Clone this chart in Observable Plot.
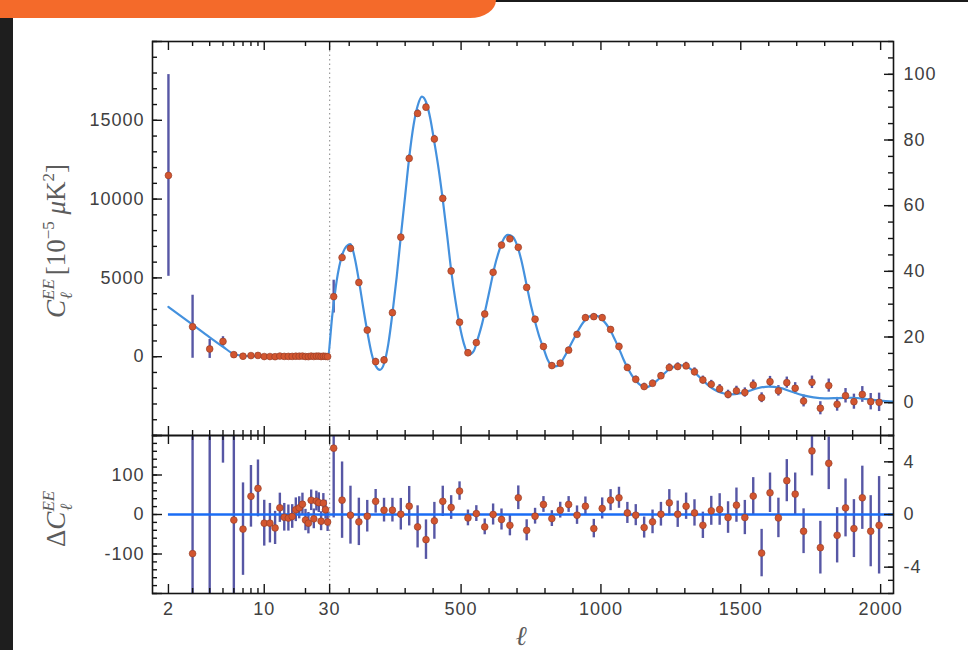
<!DOCTYPE html>
<html>
<head>
<meta charset="utf-8">
<script src="https://cdn.jsdelivr.net/npm/d3@7"></script>
<script src="https://cdn.jsdelivr.net/npm/@observablehq/plot@0.6"></script>
<style>
  html, body { margin: 0; padding: 0; background: #fff; }
  #page { position: relative; width: 968px; height: 650px; overflow: hidden; background: #fff; }
  .band { position: absolute; left: 0; top: 0; width: 496px; height: 18px; background: #f46a2a;
          border-bottom-right-radius: 26px 18px; z-index: 5; }
  .rule { position: absolute; left: 470px; right: 0; top: 0; height: 2px; background: #1b1b1b; z-index: 4; }
  .side { position: absolute; left: 0; top: 18px; bottom: 0; width: 13px; background: #1e1e1e; z-index: 5; }
  #top, #bottom { position: absolute; left: 0; }
  #top { top: 0; }
  #bottom { top: 435px; }
</style>
</head>
<body>
<div id="page">
  <div id="top"></div>
  <div id="bottom"></div>
  <div class="rule"></div>
  <div class="band"></div>
  <div class="side"></div>
</div>
<script>
// ---------------- data ----------------
// Low multipoles (ℓ = 2..29): C_ℓ^EE in units of 1e-5 μK²
const lowEll = [2, 3, 4, 5, 6, 7, 8, 9, 10, 11, 12, 13, 14, 15, 16, 17, 18, 19, 20, 21, 22, 23, 24, 25, 26, 27, 28, 29];
const lowC = [11500, 1900, 490, 970, 130, 30, 70, 80, 10, 10, 0, 40, 20, 20, 20, 30, 30, 40, 10, 5, 40, 15, 35, 35, 10, 30, 20, 5];
const lowCErr = [6400, 2000, 600, 300, 150, 60, 60, 60, 60, 60, 60, 60, 60, 60, 60, 60, 60, 60, 60, 60, 60, 60, 60, 60, 60, 60, 60, 60];
const lowModelC = [3160, 2040, 1230, 630, 170, 60, 35, 28, 24, 22, 20, 19, 18, 17, 16, 15, 15, 14, 14, 13, 13, 12, 12, 12, 11, 11, 11, 10];

// Low-multipole residuals ΔC_ℓ (ℓ = 3..29)
const resEll = [3, 4, 5, 6, 7, 8, 9, 10, 11, 12, 13, 14, 15, 16, 17, 18, 19, 20, 21, 22, 23, 24, 25, 26, 27, 28, 29];
const resC = [-99, -300, 400, -14, -37, 46, 66, -22, -22, -34, 17, -7, -9, -5, 12, 17, 26, -14, -22, 36, -11, 34, 30, -17, 29, 12, -19];
const resCErr = [2000, 600, 270, 250, 117, 78, 72, 58, 50, 42, 37, 35, 33, 30, 30, 28, 28, 27, 27, 26, 25, 25, 25, 24, 24, 24, 24];

// High multipoles: binned D_ℓ^EE in μK²
const binEll = [44.5, 74.5, 104.5, 134.5, 164.5, 194.5, 224.5, 254.5, 284.5, 314.5,
  344.5, 374.5, 404.5, 434.5, 464.5, 494.5, 524.5, 554.5, 584.5, 614.5,
  644.5, 674.5, 704.5, 734.5, 764.5, 794.5, 824.5, 854.5, 884.5, 914.5,
  944.5, 974.5, 1004.5, 1034.5, 1064.5, 1094.5, 1124.5, 1154.5, 1184.5, 1214.5,
  1244.5, 1274.5, 1304.5, 1334.5, 1364.5, 1394.5, 1424.5, 1454.5, 1484.5, 1514.5,
  1544.5, 1574.5, 1604.5, 1634.5, 1664.5, 1694.5, 1724.5, 1754.5, 1784.5, 1814.5,
  1844.5, 1874.5, 1904.5, 1934.5, 1964.5, 1994.5];
const topD = [32.3, 44.2, 47.0, 36.6, 22.1, 12.5, 13.0, 27.4, 50.4, 74.4,
  88.1, 90.0, 80.3, 62.2, 40.1, 24.5, 15.2, 18.3, 27.0, 39.7,
  48.0, 49.9, 47.3, 35.1, 25.4, 17.1, 11.3, 12.0, 16.0, 20.8,
  25.9, 26.2, 25.9, 22.3, 17.1, 10.7, 7.1, 4.9, 5.9, 8.2,
  10.7, 11.0, 11.2, 9.4, 6.9, 5.6, 4.2, 2.5, 3.6, 3.1,
  5.4, 1.5, 6.4, 3.6, 6.1, 4.4, 0.5, 6.2, -1.7, 5.2,
  -0.5, 2.1, 0.3, 2.5, 0.3, 0.1];
const topErr = [5, 1.2, 1.1, 1, 1, 1, 1, 1, 1, 1.1,
  1.1, 1.1, 1.1, 1, 1, 0.9, 0.9, 0.9, 0.9, 0.9,
  0.9, 0.9, 0.9, 0.9, 0.9, 0.9, 0.9, 0.9, 0.9, 0.9,
  0.9, 0.9, 0.9, 0.9, 1, 1, 1, 1, 1, 1,
  1.1, 1.1, 1.1, 1.2, 1.2, 1.2, 1.3, 1.3, 1.4, 1.4,
  1.5, 1.5, 1.6, 1.6, 1.7, 1.7, 1.8, 1.9, 2.0, 2.0,
  2.1, 2.2, 2.3, 2.4, 2.5, 2.8];
const resD = [5.04, 1.09, -0.05, -0.56, -0.13, 1.0, 0.33, 0.33, 0.02, 0.63,
  -0.94, -1.91, -0.48, 1.0, 0.53, 1.78, -0.26, 0.07, -0.94, 0,
  -0.38, -0.82, 1.27, -1.2, -0.13, 0.76, -0.31, 0.33, 0.76, -0.05,
  0.63, -1.07, 0.46, 1.09, 1.27, 0.12, -0.05, -0.99, -0.56, 0.02,
  0.89, 0.02, 0.63, 0.12, -0.82, 0.28, 0.38, -0.23, 0.71, -0.23,
  1.4, -2.93, 1.65, -0.26, 2.57, 1.55, -1.27, 4.83, -2.52, 3.89,
  -1.58, 0.5, -1.07, 1.27, -1.27, -0.82];
const resDErr = [5.3, 2.9, 2.2, 1.8, 1.2, 0.9, 0.9, 0.9, 1.2, 1.5,
  1.6, 1.5, 1.4, 1.15, 0.9, 0.7, 0.6, 0.6, 0.6, 0.8,
  0.8, 0.8, 0.9, 0.8, 0.6, 0.6, 0.6, 0.6, 0.6, 0.7,
  0.7, 0.7, 0.8, 0.8, 0.8, 0.8, 0.8, 0.8, 0.9, 0.9,
  1.0, 1.0, 1.0, 1.0, 1.0, 1.1, 1.2, 1.2, 1.3, 1.3,
  1.4, 1.8, 1.5, 1.5, 1.6, 1.6, 1.7, 1.9, 2.0, 2.0,
  2.1, 2.2, 2.2, 2.4, 2.7, 3.7];

// Best-fit model D_ℓ^EE (μK²) for ℓ ≥ 30
const modelEll = [40, 55, 75, 95, 105, 120, 135, 150, 165, 180, 195, 210, 225, 240, 255, 270, 285, 300, 315, 330,
  345, 360, 375, 390, 405, 420, 435, 450, 465, 480, 495, 510, 528, 545, 560, 575, 590, 605, 620, 635,
  650, 667, 685, 700, 715, 735, 750, 765, 780, 795, 810, 830, 845, 860, 875, 890, 905, 920, 940, 960,
  975, 990, 1005, 1020, 1035, 1050, 1065, 1080, 1095, 1110, 1125, 1140, 1160, 1180, 1200, 1220, 1240, 1260, 1285, 1305,
  1325, 1345, 1365, 1385, 1405, 1430, 1466, 1500, 1530, 1560, 1600, 1640, 1680, 1720, 1760, 1800, 1850, 1900, 1950, 2000, 2046];
const modelD = [27, 37, 45, 48, 48.3, 44, 37, 29, 21.5, 15, 11.2, 10, 12, 18, 27.5, 38.5, 51, 63, 75, 84.5,
  90.5, 93.2, 91.5, 86.5, 79, 71, 61.5, 51, 40, 31, 23.5, 18, 14.6, 15.7, 19.5, 24, 29.5, 35.5, 41.5, 46,
  49.5, 51.1, 50.5, 48, 43.5, 35.5, 29.5, 24.5, 20, 16.5, 13, 11, 11.2, 12.6, 14.8, 17.3, 19.8, 22.2, 24.8, 26.3,
  26.6, 26.3, 25.3, 23.8, 21.8, 19.2, 16.4, 13.3, 10.6, 8.4, 6.7, 5.4, 4.6, 5.3, 6.7, 8.3, 9.9, 10.9, 11.4, 11,
  10, 8.4, 6.8, 5.2, 4, 3, 2.5, 2.9, 3.6, 4.4, 4.9, 4.5, 3.4, 2.3, 1.6, 1.3, 1.4, 1.5, 1.1, 0.6, 0.3];

// Axis ticks
const xMajorTicks = [2, 10, 30, 500, 1000, 1500, 2000];
const xMinorTicks = [3, 4, 5, 6, 7, 8, 9, 20, 100, 200, 300, 400, 600, 700, 800, 900,
  1100, 1200, 1300, 1400, 1600, 1700, 1800, 1900];
const topLeftLabels = [0, 5000, 10000, 15000];
const topRightLabels = [0, 20, 40, 60, 80, 100];
const botLeftLabels = [-100, 0, 100];
const botRightLabels = [-4, 0, 4];

// ---------------- scales ----------------
// Multipole axis: logarithmic below ℓ = 30, linear from ℓ = 30 upward
const ELL_SPLIT = 30;
const ELL_PER_DECADE = 490;
const xpos = l => l >= ELL_SPLIT ? l : ELL_SPLIT - ELL_PER_DECADE * Math.log10(ELL_SPLIT / l);
const X_DOMAIN = [xpos(1.53), 2046];

// top panel: left axis C_ℓ (1e-5 μK²), right axis D_ℓ (μK²)
const Y_TOP = [-5000, 20000];
const D_TOP = [-10, 110];
const dToC = d => Y_TOP[0] + (d - D_TOP[0]) * (Y_TOP[1] - Y_TOP[0]) / (D_TOP[1] - D_TOP[0]);
const cToD = c => D_TOP[0] + (c - Y_TOP[0]) * (D_TOP[1] - D_TOP[0]) / (Y_TOP[1] - Y_TOP[0]);

// bottom panel: left axis ΔC_ℓ, right axis ΔD_ℓ
const Y_BOT = [-200, 200];
const R_BOT = [-6, 6];
const rToL = r => r * (Y_BOT[1] / R_BOT[1]);
const lToR = l => l * (R_BOT[1] / Y_BOT[1]);

// plain integer labels with an ASCII hyphen for negatives
const plain = v => String(Math.round(v));

// ---------------- layout ----------------
const W = 968, ML = 152, MR = 75;
const FW = W - ML - MR;
const TOP_H = 435, TOP_MT = 41;
const FH_TOP = TOP_H - TOP_MT;
const BOT_H = 215, BOT_MB = 57;
const FH_BOT = BOT_H - BOT_MB;

const INK = "#151515";
const BAR = "#3a3a95";
const DOT = "#d2552f";
const DOT_EDGE = "#8e3b27";
const MAJ = 9, MIN = 5;

const style = {
  fontFamily: "'Liberation Sans', Arial, sans-serif",
  fontSize: "18px",
  color: "#404040",
  background: "transparent",
  letterSpacing: "1px",
  overflow: "visible"
};

function xEdgeTicks(values, len, fh) {
  return [
    Plot.tickX(values, {x: xpos, insetBottom: fh - len, stroke: INK, strokeWidth: 1.4}),
    Plot.tickX(values, {x: xpos, insetTop: fh - len, stroke: INK, strokeWidth: 1.4})
  ];
}
const yLeftTicks = (values, len) =>
  Plot.tickY(values, {y: d => d, insetRight: FW - len, stroke: INK, strokeWidth: 1.4});
const yRightTicks = (values, len) =>
  Plot.tickY(values, {y: d => d, insetLeft: FW - len, stroke: INK, strokeWidth: 1.4});

const ell30 = [ELL_SPLIT];

// ---------------- top panel ----------------
const lowTable = lowEll.map((l, i) => ({l, c: lowC[i], e: lowCErr[i]}));
const highTable = binEll.map((l, i) => ({l, d: topD[i], e: topErr[i]}));
const modelLine = [
  ...lowEll.map((l, i) => ({x: xpos(l), y: lowModelC[i]})),
  ...modelEll.map((l, i) => ({x: xpos(l), y: dToC(modelD[i])}))
];

const topPlot = Plot.plot({
  width: W, height: TOP_H,
  marginLeft: ML, marginRight: MR, marginTop: TOP_MT, marginBottom: 0,
  x: {type: "linear", domain: X_DOMAIN, axis: null},
  y: {type: "linear", domain: Y_TOP},
  style,
  marks: [
    Plot.ruleX(ell30, {x: xpos, stroke: "#9a9a9a", strokeWidth: 1.2, strokeDasharray: "1.5,3"}),
    Plot.ruleX(lowTable, {x: d => xpos(d.l), y1: d => d.c - d.e, y2: d => d.c + d.e,
      stroke: BAR, strokeWidth: 2.4, strokeOpacity: 0.85, clip: true}),
    Plot.ruleX(highTable, {x: d => xpos(d.l), y1: d => dToC(d.d - d.e), y2: d => dToC(d.d + d.e),
      stroke: BAR, strokeWidth: 2.4, strokeOpacity: 0.85, clip: true}),
    Plot.line(modelLine, {x: "x", y: "y", stroke: "#4491de", strokeWidth: 2.2, curve: "monotone-x", clip: true}),
    Plot.dot(lowTable, {x: d => xpos(d.l), y: "c", r: 3.4, fill: DOT, stroke: DOT_EDGE, strokeWidth: 0.6, clip: true}),
    Plot.dot(highTable, {x: d => xpos(d.l), y: d => dToC(d.d), r: 3.4, fill: DOT, stroke: DOT_EDGE, strokeWidth: 0.6, clip: true}),
    Plot.frame({stroke: INK, strokeWidth: 1.6}),
    ...xEdgeTicks(xMajorTicks, MAJ, FH_TOP),
    ...xEdgeTicks(xMinorTicks, MIN, FH_TOP),
    yLeftTicks(d3.range(Y_TOP[0], Y_TOP[1] + 1, 1000), MIN),
    yLeftTicks(d3.range(Y_TOP[0], Y_TOP[1] + 1, 5000), MAJ + 1),
    yRightTicks(d3.range(D_TOP[0], D_TOP[1] + 1, 5).map(dToC), MIN),
    yRightTicks(d3.range(0, D_TOP[1] + 1, 20).map(dToC), MAJ),
    Plot.axisY(topLeftLabels, {anchor: "left", tickSize: 0, tickPadding: 8, label: null, tickFormat: plain}),
    Plot.axisY(topRightLabels.map(dToC), {anchor: "right", tickSize: 0, tickPadding: 10, label: null,
      tickFormat: c => plain(cToD(c))})
  ]
});
document.getElementById("top").appendChild(topPlot);

// ---------------- bottom panel ----------------
const resLowTable = resEll.map((l, i) => ({l, v: resC[i], e: resCErr[i]}));
const resHighTable = binEll.map((l, i) => ({l, v: resD[i], e: resDErr[i]}));
const xLabelAt = new Map(xMajorTicks.map(l => [xpos(l), String(l)]));

const botPlot = Plot.plot({
  width: W, height: BOT_H,
  marginLeft: ML, marginRight: MR, marginTop: 0, marginBottom: BOT_MB,
  x: {type: "linear", domain: X_DOMAIN},
  y: {type: "linear", domain: Y_BOT},
  style,
  marks: [
    Plot.ruleX(ell30, {x: xpos, stroke: "#9a9a9a", strokeWidth: 1.2, strokeDasharray: "1.5,3"}),
    Plot.ruleX(resLowTable, {x: d => xpos(d.l), y1: d => d.v - d.e, y2: d => d.v + d.e,
      stroke: BAR, strokeWidth: 2.4, strokeOpacity: 0.85, clip: true}),
    Plot.ruleX(resHighTable, {x: d => xpos(d.l), y1: d => rToL(d.v - d.e), y2: d => rToL(d.v + d.e),
      stroke: BAR, strokeWidth: 2.4, strokeOpacity: 0.85, clip: true}),
    Plot.ruleY([0], {x1: xpos(2), x2: X_DOMAIN[1], stroke: "#1a6cf5", strokeWidth: 2.6}),
    Plot.dot(resLowTable, {x: d => xpos(d.l), y: "v", r: 3.4, fill: DOT, stroke: DOT_EDGE, strokeWidth: 0.6, clip: true}),
    Plot.dot(resHighTable, {x: d => xpos(d.l), y: d => rToL(d.v), r: 3.4, fill: DOT, stroke: DOT_EDGE, strokeWidth: 0.6, clip: true}),
    Plot.frame({stroke: INK, strokeWidth: 1.6}),
    ...xEdgeTicks(xMajorTicks, MAJ, FH_BOT),
    ...xEdgeTicks(xMinorTicks, MIN, FH_BOT),
    yLeftTicks(d3.range(Y_BOT[0], Y_BOT[1] + 1, 20), MIN),
    yLeftTicks(d3.range(-200, 201, 100), MAJ + 1),
    yRightTicks(d3.range(R_BOT[0], R_BOT[1] + 1, 1).map(rToL), MIN),
    yRightTicks(d3.range(-4, 5, 4).map(rToL), MAJ),
    Plot.axisY(botLeftLabels, {anchor: "left", tickSize: 0, tickPadding: 8, label: null, tickFormat: plain}),
    Plot.axisY(botRightLabels.map(rToL), {anchor: "right", tickSize: 0, tickPadding: 10, label: null,
      tickFormat: v => plain(lToR(v))}),
    Plot.axisX(xMajorTicks.map(xpos), {anchor: "bottom", tickSize: 0, tickPadding: 9, label: null,
      tickFormat: v => xLabelAt.get(v)})
  ]
});
document.getElementById("bottom").appendChild(botPlot);

// ---------------- axis titles (serif, with super/subscripts) ----------------
function addTitle(svg, x, y, parts, rotate = true) {
  const t = d3.select(svg).append("text")
    .attr("transform", rotate ? `translate(${x},${y}) rotate(-90)` : `translate(${x},${y})`)
    .attr("text-anchor", rotate ? "start" : "middle")
    .attr("font-family", "'Liberation Serif', 'DejaVu Serif', serif")
    .attr("font-size", 27)
    .attr("letter-spacing", 0)
    .attr("fill", "#5c5c5c");
  for (const p of parts) {
    const s = t.append("tspan").text(p.text);
    if (p.size) s.attr("font-size", p.size);
    if (p.italic) s.attr("font-style", "italic");
    if (p.dx) s.attr("dx", p.dx);
    if (p.dy) s.attr("dy", p.dy);
  }
}

addTitle(topPlot, 65, 318, [
  {text: "C", italic: true},
  {text: "EE", italic: true, size: 17, dy: -11},
  {text: "ℓ", italic: true, size: 17, dx: -20, dy: 18},
  {text: " [10", dx: 10, dy: -7},
  {text: "−5", size: 17, dy: -11},
  {text: " ", dy: 11},
  {text: "μ", italic: true},
  {text: "K"},
  {text: "2", size: 17, dy: -11},
  {text: "]", dy: 11}
]);

addTitle(botPlot, 65, 112, [
  {text: "Δ"},
  {text: "C", italic: true},
  {text: "EE", italic: true, size: 17, dy: -11},
  {text: "ℓ", italic: true, size: 17, dx: -20, dy: 18}
]);

addTitle(botPlot, 521, 210, [{text: "ℓ", italic: true}], false);
</script>
</body>
</html>
